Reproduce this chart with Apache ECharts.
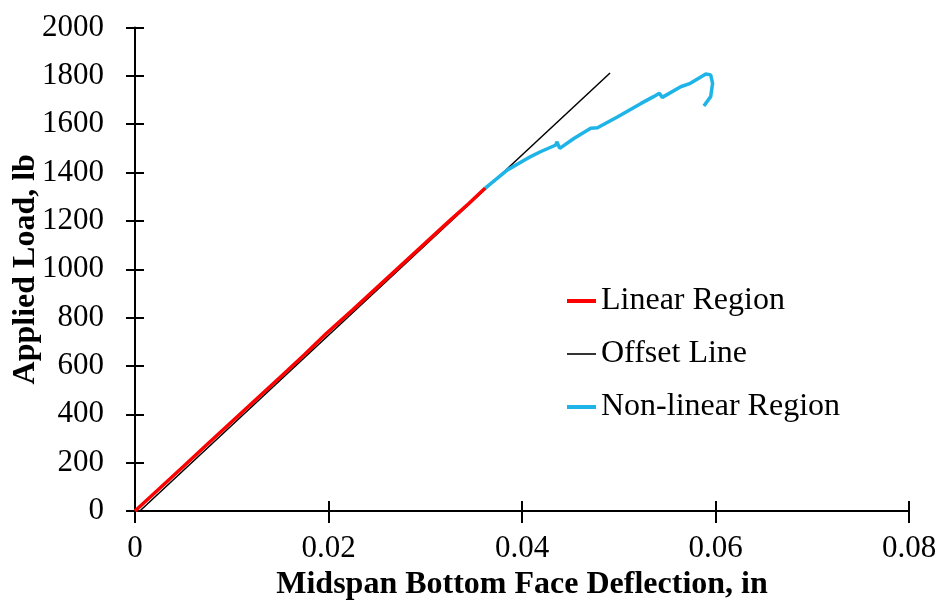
<!DOCTYPE html>
<html>
<head>
<meta charset="utf-8">
<script src="https://cdn.jsdelivr.net/npm/echarts@6/dist/echarts.min.js"></script>
<style>html,body{margin:0;padding:0;background:#fff}#c{width:941px;height:609px}</style>
</head>
<body>
<div id="c"></div>
<script>
var xTitle = 'Midspan Bottom Face Deflection, in';
var yTitle = 'Applied Load, lb';
var seriesNames = ['Linear Region', 'Offset Line', 'Non-linear Region'];
var linearRegion = [[0,0],[0.0025,92],[0.005,184],[0.0075,277],[0.01,369],[0.0125,461],[0.015,553],[0.0175,646],[0.0198,735],[0.0225,832],[0.025,924],[0.0275,1016],[0.03,1108],[0.0325,1200],[0.0345,1272],[0.0362,1336]];
var offsetLine = [[0.0005,0],[0.0491,1812]];
var nonLinearRegion = [[0.0362,1336],[0.0385,1411],[0.0409,1466],[0.0419,1486],[0.0435,1514],[0.0436,1528],[0.0439,1500],[0.0454,1542],[0.0471,1583],[0.0478,1585],[0.0499,1631],[0.0523,1686],[0.0536,1714],[0.0542,1728],[0.0545,1711],[0.0564,1755],[0.0574,1769],[0.0590,1808],[0.0595,1804],[0.0597,1769],[0.0595,1714],[0.0588,1675]];
var xMin = 0, xMax = 0.08, xStep = 0.02;
var yMin = 0, yMax = 2000, yStep = 200;

var font = 'Liberation Serif';
var chart = echarts.init(document.getElementById('c'));
var axisLineStyle = {color:'#000', width:2};
chart.setOption({
  animation:false,
  backgroundColor:'#fff',
  grid:{left:135, right:32, top:27.5, bottom:98, containLabel:false, outerBoundsMode:'none'},
  legend:{
    orient:'vertical', left:562, top:280, itemGap:21, itemWidth:29, itemHeight:14,
    data:[
      {name:seriesNames[0], icon:'path://M0,0 L29,0 L29,4 L0,4 Z'},
      {name:seriesNames[1], icon:'path://M0,0 L29,0 L29,1.6 L0,1.6 Z'},
      {name:seriesNames[2], icon:'path://M0,0 L29,0 L29,4 L0,4 Z'}
    ],
    textStyle:{fontFamily:font, fontSize:32, color:'#000'}
  },
  xAxis:[{
    type:'value', min:xMin, max:xMax, interval:xStep, position:'bottom',
    name:xTitle, nameLocation:'middle', nameGap:58, nameMoveOverlap:false,
    nameTextStyle:{fontFamily:font, fontSize:32, fontWeight:'bold', color:'#000'},
    axisLine:{show:true, lineStyle:axisLineStyle},
    axisTick:{show:true, inside:false, length:12, lineStyle:axisLineStyle},
    axisLabel:{fontFamily:font, fontSize:31, color:'#000', margin:22, formatter:function(v){return v===0?'0':String(+v.toFixed(2));}},
    splitLine:{show:false}
  },{
    type:'value', min:xMin, max:xMax, interval:xStep, position:'bottom',
    axisLine:{show:false}, axisLabel:{show:false}, splitLine:{show:false},
    axisTick:{show:true, inside:true, length:10, lineStyle:axisLineStyle}
  }],
  yAxis:[{
    type:'value', min:yMin, max:yMax, interval:yStep, position:'left',
    name:yTitle, nameLocation:'middle', nameGap:93, nameRotate:90, nameMoveOverlap:false,
    nameTextStyle:{fontFamily:font, fontSize:32, fontWeight:'bold', color:'#000'},
    axisLine:{show:true, lineStyle:axisLineStyle},
    axisTick:{show:true, inside:false, length:9, lineStyle:axisLineStyle},
    axisLabel:{fontFamily:font, fontSize:31, color:'#000', margin:31, formatter:function(v){return String(v);}},
    splitLine:{show:false}
  },{
    type:'value', min:yMin, max:yMax, interval:yStep, position:'left',
    axisLine:{show:false}, axisLabel:{show:false}, splitLine:{show:false},
    axisTick:{show:true, inside:true, length:9, lineStyle:axisLineStyle}
  }],
  series:[
    {name:seriesNames[0], type:'line', data:linearRegion, symbol:'none', xAxisIndex:0, yAxisIndex:0,
     lineStyle:{color:'#FF0000', width:3.5}, itemStyle:{color:'#FF0000'}, z:3},
    {name:seriesNames[1], type:'line', data:offsetLine, symbol:'none', xAxisIndex:0, yAxisIndex:0,
     lineStyle:{color:'#000000', width:1.5}, itemStyle:{color:'#000000'}, z:2},
    {name:seriesNames[2], type:'line', data:nonLinearRegion, symbol:'none', xAxisIndex:0, yAxisIndex:0,
     lineStyle:{color:'#1EB4E8', width:3.5}, itemStyle:{color:'#1EB4E8'}, z:4}
  ]
});
</script>
</body>
</html>
